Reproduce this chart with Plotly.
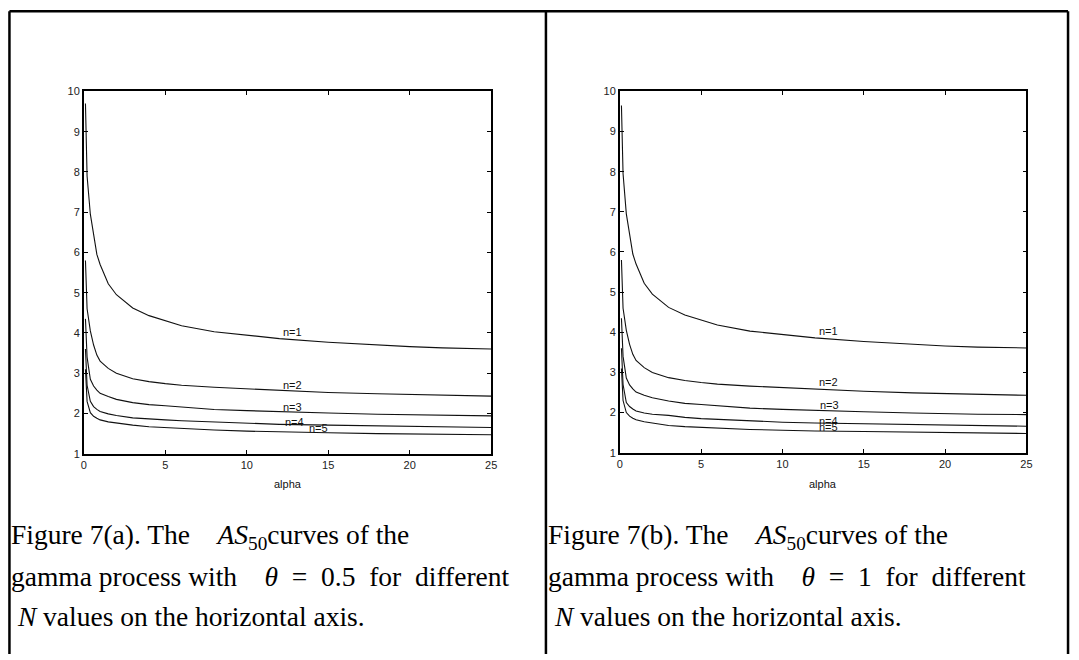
import plotly.graph_objects as go

# ---------------- data ----------------
alpha = [0.1, 0.2, 0.4, 0.6, 0.8, 1.0, 1.5, 2, 3, 4, 5, 6, 8, 10, 12, 15, 18, 20, 22, 25]

a_n1 = [9.7, 7.9, 6.95, 6.45, 5.95, 5.7, 5.22, 4.95, 4.62, 4.43, 4.30, 4.18, 4.03, 3.94, 3.86, 3.77, 3.70, 3.66, 3.63, 3.60]
a_n2 = [5.8, 4.6, 4.05, 3.70, 3.45, 3.30, 3.12, 3.00, 2.86, 2.79, 2.74, 2.70, 2.65, 2.61, 2.57, 2.52, 2.49, 2.47, 2.45, 2.43]
a_n3 = [4.35, 3.4, 2.85, 2.68, 2.58, 2.50, 2.42, 2.35, 2.27, 2.22, 2.19, 2.16, 2.10, 2.07, 2.04, 2.01, 1.98, 1.97, 1.96, 1.94]
a_n4 = [3.6, 2.7, 2.30, 2.17, 2.10, 2.05, 1.99, 1.95, 1.89, 1.86, 1.84, 1.82, 1.79, 1.76, 1.73, 1.71, 1.69, 1.67, 1.66, 1.65]
a_n5 = [3.1, 2.3, 2.02, 1.93, 1.88, 1.84, 1.79, 1.76, 1.71, 1.67, 1.65, 1.62, 1.59, 1.56, 1.54, 1.52, 1.50, 1.49, 1.48, 1.47]

b_n1 = [9.65, 7.95, 6.95, 6.45, 5.95, 5.7, 5.22, 4.95, 4.62, 4.43, 4.30, 4.18, 4.03, 3.94, 3.86, 3.77, 3.70, 3.66, 3.63, 3.61]
b_n2 = [5.8, 4.6, 4.05, 3.70, 3.45, 3.30, 3.12, 3.00, 2.87, 2.80, 2.75, 2.71, 2.66, 2.62, 2.58, 2.53, 2.49, 2.47, 2.45, 2.43]
b_n3 = [4.35, 3.4, 2.86, 2.69, 2.59, 2.51, 2.43, 2.37, 2.29, 2.23, 2.20, 2.17, 2.11, 2.08, 2.05, 2.02, 1.99, 1.97, 1.96, 1.95]
b_n4 = [3.6, 2.7, 2.25, 2.15, 2.09, 2.04, 1.99, 1.96, 1.93, 1.88, 1.85, 1.83, 1.79, 1.76, 1.74, 1.72, 1.69, 1.68, 1.67, 1.66]
b_n5 = [3.1, 2.3, 2.00, 1.91, 1.86, 1.82, 1.77, 1.74, 1.68, 1.65, 1.63, 1.61, 1.58, 1.56, 1.54, 1.53, 1.51, 1.50, 1.49, 1.48]

label_text = ["n=1", "n=2", "n=3", "n=4", "n=5"]
a_label_x = [12.8, 12.8, 12.8, 12.9, 14.4]
a_label_y = [4.02, 2.71, 2.15, 1.78, 1.63]
b_label_x = [12.85, 12.85, 12.9, 12.85, 12.85]
b_label_y = [4.03, 2.76, 2.20, 1.79, 1.65]

x_ticks = [0, 5, 10, 15, 20, 25]
y_ticks = [1, 2, 3, 4, 5, 6, 7, 8, 9, 10]

cap_a = ["Figure 7(a). The\u00a0\u00a0\u00a0\u00a0<i>AS</i><sub>50</sub>curves of the",
         "gamma process with\u00a0\u00a0\u00a0\u00a0<i>θ</i>\u2002=\u20020.5\u2002for\u2002different",
         "\u00a0<i>N</i> values on the horizontal axis."]
cap_b = ["Figure 7(b). The\u00a0\u00a0\u00a0\u00a0<i>AS</i><sub>50</sub>curves of the",
         "gamma process with\u00a0\u00a0\u00a0\u00a0<i>θ</i>\u2002=\u20021\u2002for\u2002different",
         "\u00a0<i>N</i> values on the horizontal axis."]

W, H = 1079, 660
LINE = "#111111"

fig = go.Figure()

for ys in [a_n1, a_n2, a_n3, a_n4, a_n5]:
    fig.add_trace(go.Scatter(x=alpha, y=ys, mode="lines", xaxis="x", yaxis="y",
                             line=dict(color=LINE, width=1.1), showlegend=False, hoverinfo="skip"))
for ys in [b_n1, b_n2, b_n3, b_n4, b_n5]:
    fig.add_trace(go.Scatter(x=alpha, y=ys, mode="lines", xaxis="x2", yaxis="y2",
                             line=dict(color=LINE, width=1.1), showlegend=False, hoverinfo="skip"))

tickfont = dict(family="Liberation Sans, Arial, sans-serif", size=11, color="#222")
axis_common = dict(showgrid=False, zeroline=False, showline=True, linecolor="#000", linewidth=1.5,
                   mirror="ticks", ticks="inside", ticklen=4, tickcolor="#000", tickwidth=1,
                   tickfont=tickfont)

fig.update_layout(
    width=W, height=H,
    margin=dict(l=0, r=0, t=0, b=0),
    paper_bgcolor="white", plot_bgcolor="white",
    xaxis=dict(domain=[81.5 / W, 492.3 / W], range=[0, 25], tickvals=x_ticks, anchor="y", **axis_common),
    yaxis=dict(domain=[1 - 456 / H, 1 - 87 / H], range=[1, 10], tickvals=y_ticks, anchor="x", **axis_common),
    xaxis2=dict(domain=[622 / W, 1032 / W], range=[0, 25], tickvals=x_ticks, anchor="y2", **axis_common),
    yaxis2=dict(domain=[1 - 455 / H, 1 - 87 / H], range=[1, 10], tickvals=y_ticks, anchor="x2", **axis_common),
)

annots = []
lab_font = dict(family="Liberation Sans, Arial, sans-serif", size=11, color="#111")
for t, x, y in zip(label_text, a_label_x, a_label_y):
    annots.append(dict(x=x, y=y, xref="x", yref="y", text=t, showarrow=False, font=lab_font,
                       xanchor="center", yanchor="middle"))
for t, x, y in zip(label_text, b_label_x, b_label_y):
    annots.append(dict(x=x, y=y, xref="x2", yref="y2", text=t, showarrow=False, font=lab_font,
                       xanchor="center", yanchor="middle"))

annots.append(dict(x=287 / W, y=1 - 487 / H, xref="paper", yref="paper", text="alpha", showarrow=False,
                   font=lab_font, xanchor="center", yanchor="middle"))
annots.append(dict(x=827 / W, y=1 - 487 / H, xref="paper", yref="paper", text="alpha", showarrow=False,
                   font=lab_font, xanchor="center", yanchor="middle"))

cap_font = dict(family="Liberation Serif, Times New Roman, serif", size=27.5, color="#000")
cap_y = [540, 581, 622]
for lines, x0 in [(cap_a, 6), (cap_b, 548)]:
    for txt, yy in zip(lines, cap_y):
        annots.append(dict(x=x0 / W, y=1 - yy / H, xref="paper", yref="paper", text=txt, showarrow=False,
                           font=cap_font, xanchor="left", yanchor="middle", align="left"))

fig.update_layout(annotations=annots)

# table borders
border = dict(color="#000", width=2.5)
shapes = [
    dict(type="line", xref="paper", yref="paper", x0=6.5 / W, x1=1074 / W, y0=1 - 5.3 / H, y1=1 - 5.3 / H, line=border),
    dict(type="line", xref="paper", yref="paper", x0=6.5 / W, x1=6.5 / W, y0=0, y1=1 - 5.3 / H, line=border),
    dict(type="line", xref="paper", yref="paper", x0=547.5 / W, x1=547.5 / W, y0=0, y1=1 - 5.3 / H, line=border),
    dict(type="line", xref="paper", yref="paper", x0=1074 / W, x1=1074 / W, y0=0, y1=1 - 5.3 / H, line=border),
]
fig.update_layout(shapes=shapes)

fig.write_html("out.html")
